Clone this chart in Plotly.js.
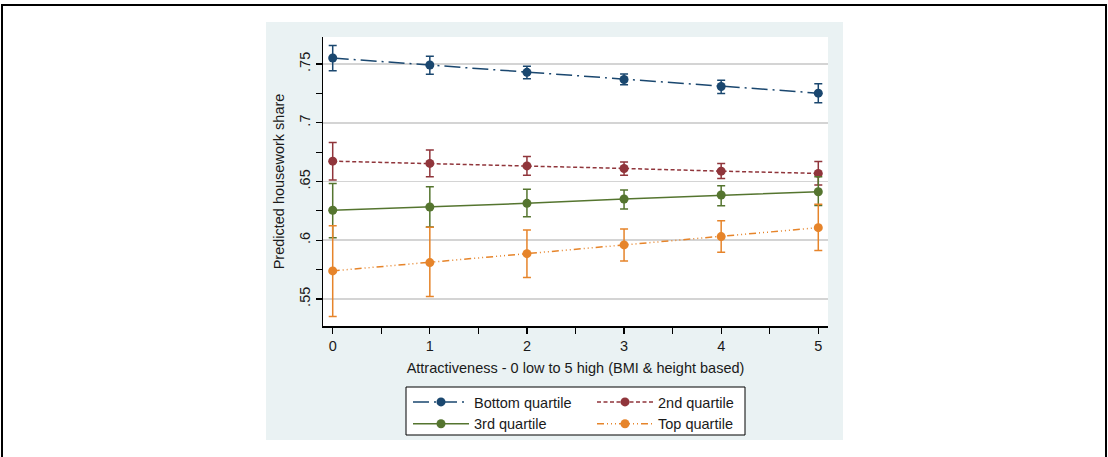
<!DOCTYPE html>
<html>
<head>
<meta charset="utf-8">
<script src="https://cdn.plot.ly/plotly-3.0.1.min.js"></script>
<style>
  html, body { margin: 0; padding: 0; background: #ffffff; }
  #chart { width: 1108px; height: 457px; }
</style>
</head>
<body>
<div id="chart"></div>
<script>
// ---------------- data ----------------
const attractiveness = [0, 1, 2, 3, 4, 5];
const seriesNames = ["Bottom quartile", "2nd quartile", "3rd quartile", "Top quartile"];

const bottomY  = [0.7551, 0.7492, 0.7429, 0.7368, 0.7309, 0.7252];
const bottomHi = [0.7657, 0.7567, 0.7480, 0.7416, 0.7362, 0.7331];
const bottomLo = [0.7443, 0.7412, 0.7374, 0.7323, 0.7250, 0.7171];

const secondY  = [0.6673, 0.6654, 0.6633, 0.6611, 0.6588, 0.6569];
const secondHi = [0.6832, 0.6769, 0.6713, 0.6667, 0.6654, 0.6670];
const secondLo = [0.6512, 0.6540, 0.6554, 0.6554, 0.6526, 0.6470];

const thirdY   = [0.6255, 0.6283, 0.6314, 0.6351, 0.6385, 0.6413];
const thirdHi  = [0.6484, 0.6455, 0.6433, 0.6427, 0.6464, 0.6540];
const thirdLo  = [0.6022, 0.6113, 0.6200, 0.6266, 0.6294, 0.6296];

const topY     = [0.5739, 0.5810, 0.5886, 0.5960, 0.6031, 0.6107];
const topHi    = [0.6124, 0.6110, 0.6087, 0.6096, 0.6166, 0.6306];
const topLo    = [0.5351, 0.5521, 0.5683, 0.5824, 0.5898, 0.5912];

const yTickVals = [0.55, 0.60, 0.65, 0.70, 0.75];
const yTickText = [".55", ".6", ".65", ".7", ".75"];
const yMinorVals = [0.525, 0.575, 0.625, 0.675, 0.725];
const xTickVals = [0, 1, 2, 3, 4, 5];
const xMinorVals = [0.5, 1.5, 2.5, 3.5, 4.5];

const xTitle = "Attractiveness - 0 low to 5 high (BMI & height based)";
const yTitle = "Predicted housework share";

// ---------------- styling ----------------
const colors = ["#1a476f", "#90353b", "#55752f", "#e6842a"];
const dashes = ["16px,5px,2px,5px", "4px,2.5px", "solid", "7px,3px,1px,3px,1px,3px,1px,3px"];
const legendIds = ["legend", "legend2", "legend", "legend2"];

const W = 1108, H = 457;
const plotL = 323, plotR = 828, plotT = 37, plotB = 326;
const pw = plotR - plotL, ph = plotB - plotT;
const px = v => (v - plotL) / pw;
const py = v => (plotB - v) / ph;

function mk(i, y, hi, lo) {
  return {
    type: "scatter",
    mode: "lines+markers",
    name: seriesNames[i],
    x: attractiveness,
    y: y,
    legend: legendIds[i],
    line: { color: colors[i], width: 1.5, dash: dashes[i] },
    marker: { color: colors[i], size: 9, symbol: "circle" },
    error_y: {
      type: "data",
      symmetric: false,
      array: hi.map((h, k) => h - y[k]),
      arrayminus: lo.map((l, k) => y[k] - l),
      color: colors[i],
      thickness: 1.5,
      width: 4
    },
    hoverinfo: "x+y+name"
  };
}

const traces = [
  mk(0, bottomY, bottomHi, bottomLo),
  mk(1, secondY, secondHi, secondLo),
  mk(2, thirdY, thirdHi, thirdLo),
  mk(3, topY, topHi, topLo)
];

const font = { family: "Liberation Sans, Arial, sans-serif", size: 14.5, color: "#1a1a1a" };

const layout = {
  width: W, height: H,
  margin: { l: plotL, r: W - plotR, t: plotT, b: H - plotB, pad: 0 },
  paper_bgcolor: "#ffffff",
  plot_bgcolor: "#ffffff",
  font: font,
  showlegend: true,
  xaxis: {
    range: [-0.1, 5.1],
    tickmode: "array",
    tickvals: xTickVals,
    ticktext: xTickVals.map(String),
    ticks: "outside", ticklen: 6, tickwidth: 1.2, tickcolor: "#000",
    minor: { tickmode: "array", tickvals: xMinorVals, ticks: "outside", ticklen: 6, tickwidth: 1.2, tickcolor: "#000", showgrid: false },
    showline: true, linecolor: "#000", linewidth: 1.5,
    showgrid: false, zeroline: false,
    tickfont: font,
    title: { text: xTitle, font: font, standoff: 10 },
    automargin: false,
    fixedrange: true
  },
  yaxis: {
    range: [0.527, 0.773],
    tickmode: "array",
    tickvals: yTickVals,
    ticktext: yTickText,
    tickangle: -90,
    ticks: "outside", ticklen: 6, tickwidth: 1.2, tickcolor: "#000",
    minor: { tickmode: "array", tickvals: yMinorVals, ticks: "outside", ticklen: 6, tickwidth: 1.2, tickcolor: "#000", showgrid: false },
    showline: true, linecolor: "#000", linewidth: 1.5,
    showgrid: true, gridcolor: "#d4d4d4", gridwidth: 1.5,
    zeroline: false,
    tickfont: font,
    title: { text: yTitle, font: font, standoff: 8 },
    automargin: false,
    fixedrange: true
  },
  legend: {
    x: px(408), y: py(386), xanchor: "left", yanchor: "top",
    orientation: "v", bgcolor: "rgba(0,0,0,0)", borderwidth: 0,
    font: font, itemwidth: 56, tracegroupgap: 0
  },
  legend2: {
    x: px(592), y: py(386), xanchor: "left", yanchor: "top",
    orientation: "v", bgcolor: "rgba(0,0,0,0)", borderwidth: 0,
    font: font, itemwidth: 56, tracegroupgap: 0
  },
  shapes: [
    // outer frame
    { type: "rect", xref: "paper", yref: "paper", layer: "below",
      x0: px(2), x1: px(1106), y0: py(470), y1: py(5),
      line: { color: "#000", width: 2 }, fillcolor: "rgba(0,0,0,0)" },
    // graph region (light teal)
    { type: "rect", xref: "paper", yref: "paper", layer: "below",
      x0: px(266), x1: px(843), y0: py(440), y1: py(22),
      line: { width: 0 }, fillcolor: "#eaf2f3" },
    // plot region (white)
    { type: "rect", xref: "paper", yref: "paper", layer: "below",
      x0: 0, x1: 1, y0: 0, y1: 1,
      line: { width: 0 }, fillcolor: "#ffffff" },
    // legend box
    { type: "rect", xref: "paper", yref: "paper", layer: "below",
      x0: px(406), x1: px(745), y0: py(435), y1: py(387),
      line: { color: "#000", width: 1 }, fillcolor: "#ffffff" }
  ]
};

Plotly.newPlot("chart", traces, layout, { displayModeBar: false, staticPlot: true });
</script>
</body>
</html>
